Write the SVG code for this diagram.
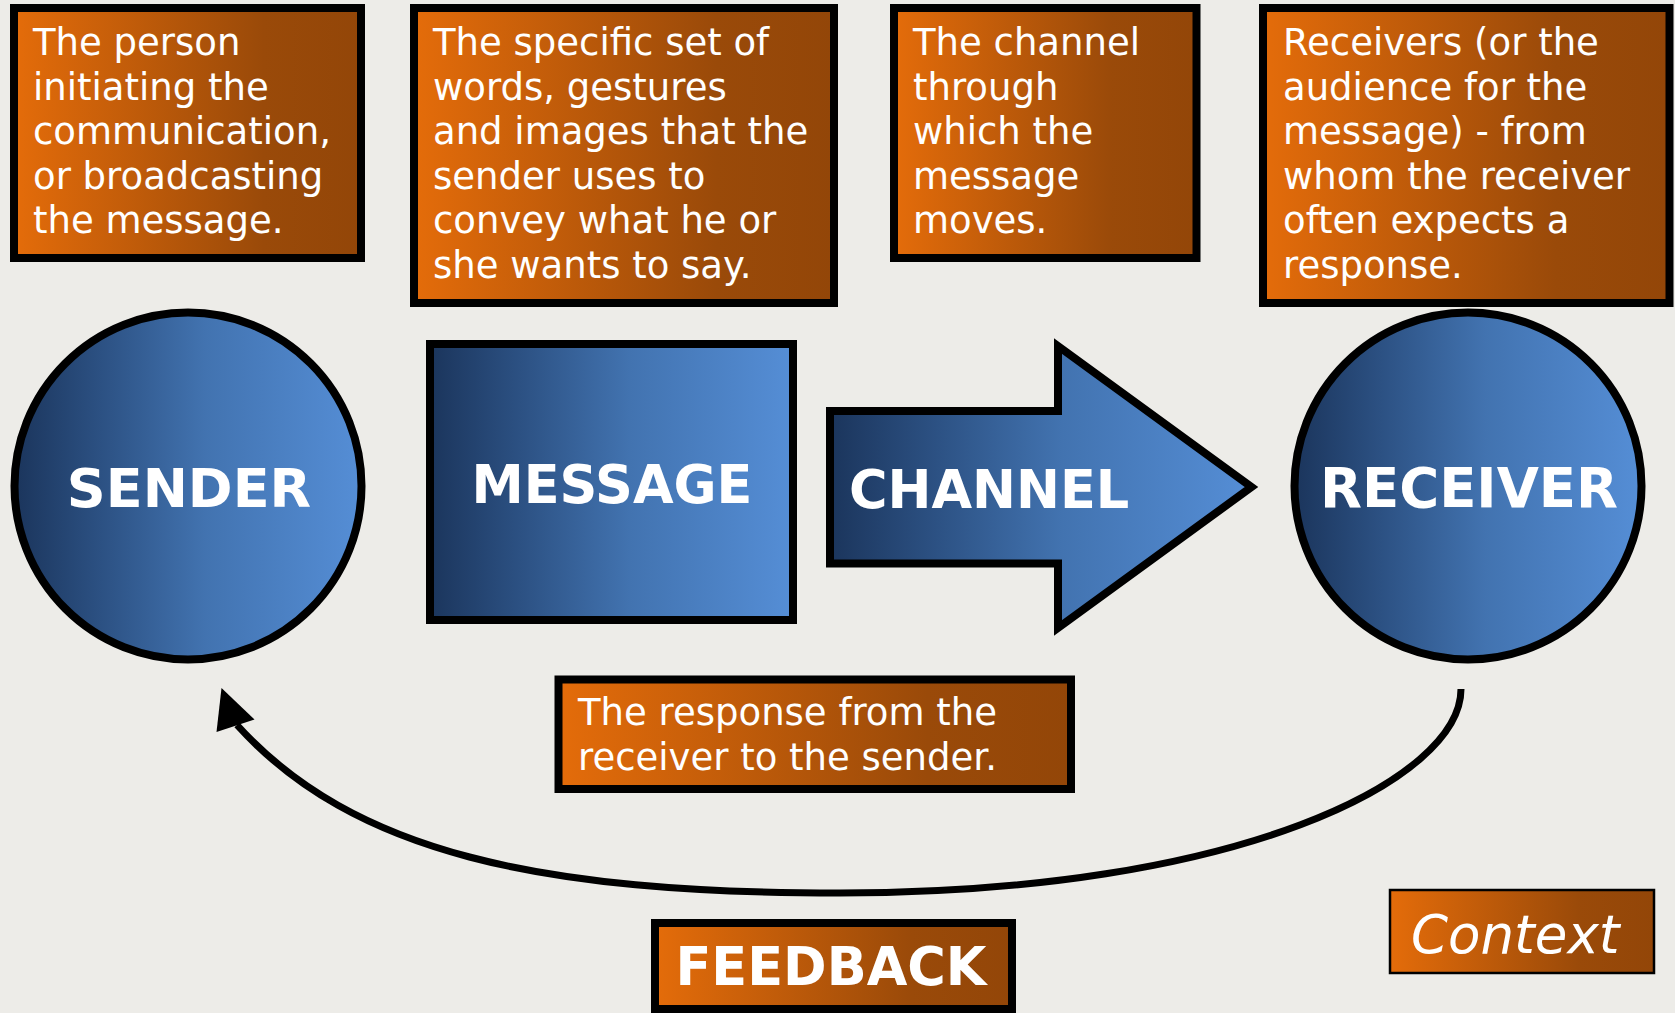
<svg xmlns="http://www.w3.org/2000/svg" width="1675" height="1013" viewBox="0 0 1675 1013">
<defs>
<linearGradient id="og" x1="0" y1="0" x2="1" y2="0">
<stop offset="0" stop-color="#E46C0A"/>
<stop offset="0.72" stop-color="#9A4A09"/>
<stop offset="1" stop-color="#934608"/>
</linearGradient>
<linearGradient id="bg" x1="0" y1="0" x2="1" y2="0">
<stop offset="0" stop-color="#1B355C"/>
<stop offset="0.25" stop-color="#2C5183"/>
<stop offset="0.55" stop-color="#4273B0"/>
<stop offset="1" stop-color="#558ED6"/>
</linearGradient>
<style>
.ob{fill:url(#og);stroke:#000;stroke-width:8}
.bl{fill:url(#bg);stroke:#000;stroke-width:8}
.dt{font-family:"DejaVu Sans",Verdana,sans-serif;font-size:37px;fill:#fff}
.big{font-family:"DejaVu Sans",Verdana,sans-serif;font-weight:bold;fill:#fff}
.conn{fill:none;stroke:#000;stroke-width:7}
</style>
</defs>
<rect width="1675" height="1013" fill="#EDECE8"/>

<g id="desc-sender">
<rect class="ob" x="14" y="8" width="347" height="250"/>
<text class="dt"><tspan x="33" y="55">The person</tspan><tspan x="33" y="99.6">initiating the</tspan><tspan x="33" y="144.2">communication,</tspan><tspan x="33" y="188.8">or broadcasting</tspan><tspan x="33" y="233.4">the message.</tspan></text>
</g>
<g id="desc-message">
<rect class="ob" x="414" y="8" width="420" height="295"/>
<text class="dt"><tspan x="433" y="55">The specific set of</tspan><tspan x="433" y="99.6">words, gestures</tspan><tspan x="433" y="144.2">and images that the</tspan><tspan x="433" y="188.8">sender uses to</tspan><tspan x="433" y="233.4">convey what he or</tspan><tspan x="433" y="278">she wants to say.</tspan></text>
</g>
<g id="desc-channel">
<rect class="ob" x="894" y="8" width="302.5" height="250"/>
<text class="dt"><tspan x="913" y="55">The channel</tspan><tspan x="913" y="99.6">through</tspan><tspan x="913" y="144.2">which the</tspan><tspan x="913" y="188.8">message</tspan><tspan x="913" y="233.4">moves.</tspan></text>
</g>
<g id="desc-receiver">
<rect class="ob" x="1263" y="8" width="406.5" height="295"/>
<text class="dt"><tspan x="1283" y="55">Receivers (or the</tspan><tspan x="1283" y="99.6">audience for the</tspan><tspan x="1283" y="144.2">message) - from</tspan><tspan x="1283" y="188.8">whom the receiver</tspan><tspan x="1283" y="233.4">often expects a</tspan><tspan x="1283" y="278">response.</tspan></text>
</g>

<g id="sender">
<circle class="bl" cx="188" cy="486" r="173.5"/>
<text class="big" x="189" y="506.5" font-size="54" text-anchor="middle">SENDER</text>
</g>
<g id="message">
<rect class="bl" x="430" y="344" width="363" height="276"/>
<text class="big" x="612" y="502.5" font-size="52.5" text-anchor="middle">MESSAGE</text>
</g>
<g id="channel">
<path class="bl" d="M830,411 H1058 V346 L1251.5,487 L1058,628 V563.5 H830 Z" stroke-miterlimit="10"/>
<text class="big" x="849" y="508" font-size="52.5">CHANNEL</text>
</g>
<g id="receiver">
<circle class="bl" cx="1468" cy="486" r="173.5"/>
<text class="big" x="1469" y="506.5" font-size="54.5" text-anchor="middle">RECEIVER</text>
</g>

<g id="connectors">
<path class="conn" d="M1461,689 C1461,779 1240,893 840,893 C540,893 353,853 237,725"/>
<polygon points="221.5,688 216.5,732 254.5,719.5" fill="#000"/>
</g>

<g id="desc-feedback">
<rect class="ob" x="558.5" y="679.5" width="512.5" height="109.5"/>
<text class="dt"><tspan x="578" y="725">The response from the</tspan><tspan x="578" y="770">receiver to the sender.</tspan></text>
</g>
<g id="feedback">
<rect class="ob" x="655" y="923" width="357" height="86"/>
<text class="big" x="831" y="984.5" font-size="52.5" text-anchor="middle">FEEDBACK</text>
</g>
<g id="context">
<rect x="1390" y="890" width="264" height="83" fill="url(#og)" stroke="#000" stroke-width="2.5"/>
<text x="1411" y="952.5" font-family="'DejaVu Sans',Verdana,sans-serif" font-style="italic" font-size="53" fill="#fff">Context</text>
</g>
</svg>
